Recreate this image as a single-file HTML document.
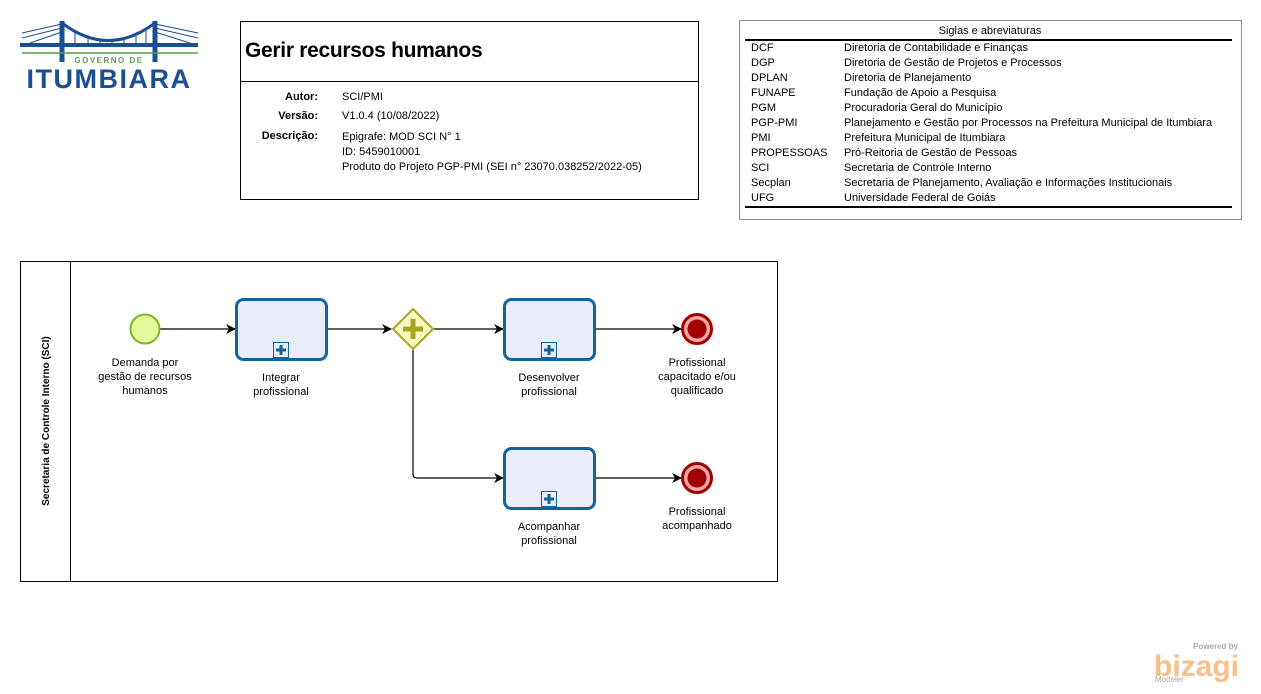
<!DOCTYPE html>
<html><head><meta charset="utf-8"><style>
body{margin:0;width:1261px;height:694px;background:#fff;position:relative;overflow:hidden;font-family:"Liberation Sans","DejaVu Sans",sans-serif;color:#000}
.a{position:absolute;white-space:nowrap;font-size:11px}
.c{position:absolute;text-align:center;font-size:11px;line-height:14px;width:140px}
</style></head><body>
<svg width="1261" height="694" style="position:absolute;left:0;top:0">
<defs><marker id="ar" markerWidth="10" markerHeight="10" refX="9" refY="5" orient="auto" markerUnits="userSpaceOnUse"><path d="M0,0 L10,5 L0,10 L3,5 Z" fill="#000"/></marker></defs>
<!-- logo -->
<g stroke="#1c4f8f" fill="none">
<path d="M62,23 Q108,58 155,23" stroke-width="3"/>
<line x1="62" y1="21" x2="62" y2="62" stroke-width="5"/><line x1="155" y1="21" x2="155" y2="62" stroke-width="5"/>
<line x1="20" y1="45" x2="198" y2="45" stroke-width="4"/>
<g stroke-width="1"><line x1="62" y1="24" x2="22" y2="33"/><line x1="62" y1="28" x2="22" y2="38"/><line x1="62" y1="32" x2="30" y2="43"/>
<line x1="155" y1="24" x2="198" y2="33"/><line x1="155" y1="28" x2="198" y2="38"/><line x1="155" y1="32" x2="190" y2="43"/></g>
<g stroke-width="1"><line x1="75" y1="31" x2="75" y2="45"/><line x1="88" y1="36" x2="88" y2="45"/><line x1="100" y1="39" x2="100" y2="45"/><line x1="112" y1="40" x2="112" y2="45"/><line x1="124" y1="38" x2="124" y2="45"/><line x1="136" y1="35" x2="136" y2="45"/><line x1="146" y1="30" x2="146" y2="45"/></g>
</g>
<line x1="22" y1="53" x2="198" y2="53" stroke="#5a9c4a" stroke-width="1.5"/>
<text x="109" y="63" text-anchor="middle" font-size="8" font-weight="bold" fill="#5a9c4a" letter-spacing="1.5">GOVERNO DE</text>
<text x="109" y="88" text-anchor="middle" font-size="27" font-weight="bold" fill="#1c4f8f" letter-spacing="1.5">ITUMBIARA</text>
<!-- boxes -->
<rect x="240.5" y="21.5" width="458" height="178" fill="none" stroke="#000"/>
<line x1="240" y1="81.5" x2="698" y2="81.5" stroke="#000"/>
<rect x="739.5" y="20.5" width="502" height="199" fill="none" stroke="#888"/>
<line x1="745" y1="40" x2="1232" y2="40" stroke="#000" stroke-width="2"/>
<line x1="745" y1="207" x2="1232" y2="207" stroke="#000" stroke-width="2"/>
<rect x="20.5" y="261.5" width="757" height="320" fill="none" stroke="#000"/>
<line x1="70.5" y1="261" x2="70.5" y2="581" stroke="#000"/>
<text transform="translate(49,421) rotate(-90)" text-anchor="middle" font-size="10" font-weight="bold">Secretaria de Controle Interno (SCI)</text>
<!-- connectors -->
<g stroke="#000" stroke-width="1.2" fill="none">
<line x1="160" y1="329" x2="235" y2="329" marker-end="url(#ar)"/>
<line x1="327" y1="329" x2="391" y2="329" marker-end="url(#ar)"/>
<line x1="434" y1="329" x2="503" y2="329" marker-end="url(#ar)"/>
<line x1="595" y1="329" x2="681" y2="329" marker-end="url(#ar)"/>
<path d="M413,350 L413,474 Q413,478 417,478 L503,478" marker-end="url(#ar)"/>
<line x1="595" y1="478" x2="681" y2="478" marker-end="url(#ar)"/>
</g>
<circle cx="145" cy="329" r="14.5" fill="#e4f99a" stroke="#77b82a" stroke-width="2"/>
<g fill="#eaedfc" stroke="#11659a" stroke-width="3">
<rect x="236.5" y="299.5" width="90" height="60" rx="7"/>
<rect x="504.5" y="299.5" width="90" height="60" rx="7"/>
<rect x="504.5" y="448.5" width="90" height="60" rx="7"/>
</g>
<g>
<rect x="273.5" y="342.5" width="15" height="15" fill="#eaedfc" stroke="#11659a"/><path d="M276,350h10M281,345v10" stroke="#11659a" stroke-width="3"/>
<rect x="541.5" y="342.5" width="15" height="15" fill="#eaedfc" stroke="#11659a"/><path d="M544,350h10M549,345v10" stroke="#11659a" stroke-width="3"/>
<rect x="541.5" y="491.5" width="15" height="15" fill="#eaedfc" stroke="#11659a"/><path d="M544,499h10M549,494v10" stroke="#11659a" stroke-width="3"/>
</g>
<path d="M413,309 L433,329 L413,349 L393,329 Z" fill="#fbf9c0" stroke="#a9a624" stroke-width="2"/>
<path d="M403,329h20M413,319v20" stroke="#a9a624" stroke-width="5"/>
<circle cx="697" cy="329" r="14.5" fill="#f4a5a5" stroke="#a00000" stroke-width="3"/><circle cx="697" cy="329" r="9.5" fill="#a00000"/>
<circle cx="697" cy="478" r="14.5" fill="#f4a5a5" stroke="#a00000" stroke-width="3"/><circle cx="697" cy="478" r="9.5" fill="#a00000"/>
<text x="1238" y="649" text-anchor="end" font-size="8" font-weight="bold" fill="#aaa">Powered by</text>
<text x="1154" y="676" font-size="30" font-weight="bold" fill="#f7c08a">bizagi</text>
<text x="1155" y="682" font-size="8" fill="#aaa">Modeler</text>
</svg>
<div class="a" style="left:245px;top:39px;font-size:21px;font-weight:bold;letter-spacing:-0.3px">Gerir recursos humanos</div>
<div class="a" style="left:248px;top:91px;width:70px;text-align:right;font-weight:bold">Autor:</div>
<div class="a" style="left:248px;top:110px;width:70px;text-align:right;font-weight:bold">Versão:</div>
<div class="a" style="left:248px;top:130px;width:70px;text-align:right;font-weight:bold">Descrição:</div>
<div class="a" style="left:342px;top:91px">SCI/PMI</div>
<div class="a" style="left:342px;top:110px">V1.0.4 (10/08/2022)</div>
<div class="a" style="left:342px;top:130px;line-height:15px">Epigrafe: MOD SCI N° 1<br>ID: 5459010001<br>Produto do Projeto PGP-PMI (SEI n° 23070.038252/2022-05)</div>
<div class="a" style="left:739px;top:25px;width:502px;text-align:center">Siglas e abreviaturas</div>
<div class="a" style="left:751px;top:41px;line-height:15px">DCF<br>DGP<br>DPLAN<br>FUNAPE<br>PGM<br>PGP-PMI<br>PMI<br>PROPESSOAS<br>SCI<br>Secplan<br>UFG</div>
<div class="a" style="left:844px;top:41px;line-height:15px">Diretoria de Contabilidade e Finanças<br>Diretoria de Gestão de Projetos e Processos<br>Diretoria de Planejamento<br>Fundação de Apoio a Pesquisa<br>Procuradoria Geral do Município<br>Planejamento e Gestão por Processos na Prefeitura Municipal de Itumbiara<br>Prefeitura Municipal de Itumbiara<br>Pró-Reitoria de Gestão de Pessoas<br>Secretaria de Controle Interno<br>Secretaria de Planejamento, Avaliação e Informações Institucionais<br>Universidade Federal de Goiás</div>
<div class="c" style="left:75px;top:356px">Demanda por<br>gestão de recursos<br>humanos</div>
<div class="c" style="left:211px;top:371px">Integrar<br>profissional</div>
<div class="c" style="left:479px;top:371px">Desenvolver<br>profissional</div>
<div class="c" style="left:627px;top:356px">Profissional<br>capacitado e/ou<br>qualificado</div>
<div class="c" style="left:479px;top:520px">Acompanhar<br>profissional</div>
<div class="c" style="left:627px;top:505px">Profissional<br>acompanhado</div>
</body></html>
